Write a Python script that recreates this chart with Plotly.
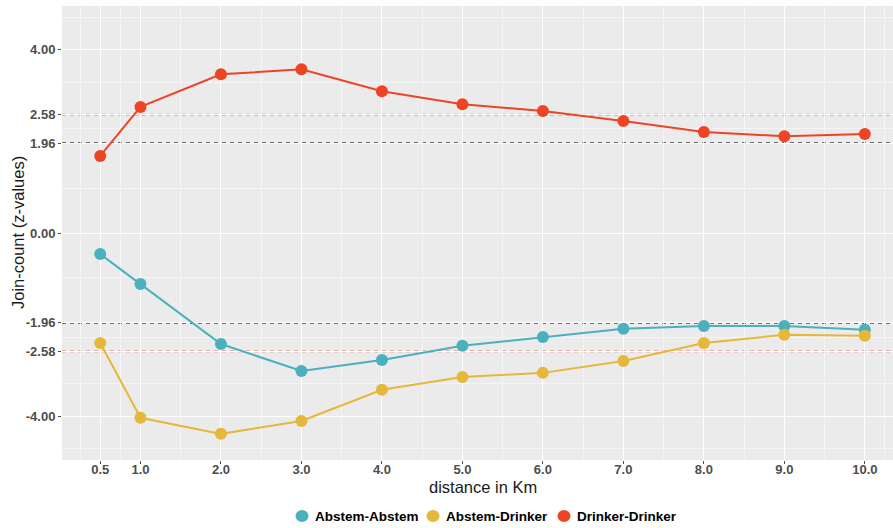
import plotly.graph_objects as go

distance = [0.5, 1.0, 2.0, 3.0, 4.0, 5.0, 6.0, 7.0, 8.0, 9.0, 10.0]
abstem_abstem = [-0.46, -1.11, -2.42, -3.01, -2.77, -2.46, -2.27, -2.09, -2.03, -2.03, -2.11]
abstem_drinker = [-2.40, -4.03, -4.38, -4.10, -3.42, -3.14, -3.05, -2.79, -2.40, -2.22, -2.24]
drinker_drinker = [1.68, 2.75, 3.46, 3.57, 3.09, 2.81, 2.66, 2.44, 2.20, 2.11, 2.16]

series_names = ["Abstem-Abstem", "Abstem-Drinker", "Drinker-Drinker"]
series_colors = ["#4AB0BE", "#E5B73A", "#EE4426"]

x_tick_vals = distance
x_tick_text = ["0.5", "1.0", "2.0", "3.0", "4.0", "5.0", "6.0", "7.0", "8.0", "9.0", "10.0"]
y_tick_vals = [-4.0, -2.58, -1.96, 0.0, 1.96, 2.58, 4.0]
y_tick_text = ["-4.00", "-2.58", "-1.96", "0.00", "1.96", "2.58", "4.00"]
x_minor = [0.25, 0.75, 1.5, 2.5, 3.5, 4.5, 5.5, 6.5, 7.5, 8.5, 9.5, 10.25]
y_minor = [-4.71, -3.29, -2.27, -0.98, 0.98, 2.27, 3.29, 4.71]
sig_black = [-1.96, 1.96]
sig_red = [-2.58, 2.58]

# plot-area geometry (pixels) used for the hand-placed legend
PL, PW, PT, PH = 62, 831, 6, 454
def px_x(p):
    return (p - PL) / PW
def px_y(p):
    return (PT + PH - p) / PH

fig = go.Figure()
for name, vals, col in zip(series_names, [abstem_abstem, abstem_drinker, drinker_drinker], series_colors):
    fig.add_trace(go.Scatter(x=distance, y=vals, mode="lines+markers", name=name,
                             line=dict(color=col, width=2), marker=dict(color=col, size=12),
                             showlegend=False))

shapes = []
for v in sig_black:
    shapes.append(dict(type="line", xref="paper", x0=0, x1=1, yref="y", y0=v, y1=v,
                       line=dict(color="#454545", width=1.8, dash="4px,4px"), layer="between"))
for v in sig_red:
    shapes.append(dict(type="line", xref="paper", x0=0, x1=1, yref="y", y0=v, y1=v,
                       line=dict(color="#EC6E60", width=1.8, dash="4px,4px"), layer="between"))

annotations = [
    dict(text="distance in Km", xref="paper", yref="paper", x=px_x(483), y=px_y(487),
         xanchor="center", yanchor="middle", showarrow=False, font=dict(size=16.5, color="#1A1A1A")),
    dict(text="Join-count (z-values)", xref="paper", yref="paper", x=px_x(18), y=0.5,
         xanchor="center", yanchor="middle", textangle=-90, showarrow=False,
         font=dict(size=16.5, color="#1A1A1A")),
]

# legend (bottom, horizontal)
legend_marker_px = [302, 433, 564]
legend_y_px = 516
for name, col, mx in zip(series_names, series_colors, legend_marker_px):
    shapes.append(dict(type="circle", xref="paper", yref="paper",
                       x0=px_x(mx - 6.5), x1=px_x(mx + 6.5), y0=px_y(legend_y_px + 6), y1=px_y(legend_y_px - 6),
                       fillcolor=col, line=dict(width=0), layer="above"))
    annotations.append(dict(text=name, xref="paper", yref="paper", x=px_x(mx + 11), y=px_y(legend_y_px),
                            xanchor="left", yanchor="middle", showarrow=False,
                            font=dict(size=13.5, color="black", weight="bold")))

tick_font = dict(size=13, color="#4D4D4D", weight="bold", family="Liberation Sans, Arial, sans-serif")

fig.update_layout(
    width=893, height=528,
    margin=dict(l=PL, r=0, t=PT, b=528 - PT - PH, autoexpand=False),
    paper_bgcolor="white", plot_bgcolor="#EBEBEB",
    font=dict(family="Liberation Sans, Arial, sans-serif"),
    shapes=shapes,
    showlegend=False,
    xaxis=dict(range=[0.025, 10.35], tickmode="array", tickvals=x_tick_vals, ticktext=x_tick_text,
               automargin=False,
               showgrid=True, gridcolor="white", gridwidth=1.1, zeroline=False,
               ticks="outside", ticklen=3, tickcolor="#4D4D4D", tickwidth=1,
               ticklabelstandoff=-6,
               tickfont=tick_font,
               minor=dict(tickmode="array", tickvals=x_minor, showgrid=True, gridcolor="#F5F5F5", gridwidth=0.6, ticks=""),
               showline=False),
    yaxis=dict(range=[-4.95, 4.95], tickmode="array", tickvals=y_tick_vals, ticktext=y_tick_text,
               automargin=False,
               showgrid=True, gridcolor="white", gridwidth=1.1, zeroline=False,
               ticks="outside", ticklen=3, tickcolor="#4D4D4D", tickwidth=1,
               tickfont=tick_font,
               minor=dict(tickmode="array", tickvals=y_minor, showgrid=True, gridcolor="#F5F5F5", gridwidth=0.6, ticks=""),
               showline=False),
    annotations=annotations,
)

fig.write_html("out.html", config={"displayModeBar": False},
               post_script="document.body.style.margin='0';")
